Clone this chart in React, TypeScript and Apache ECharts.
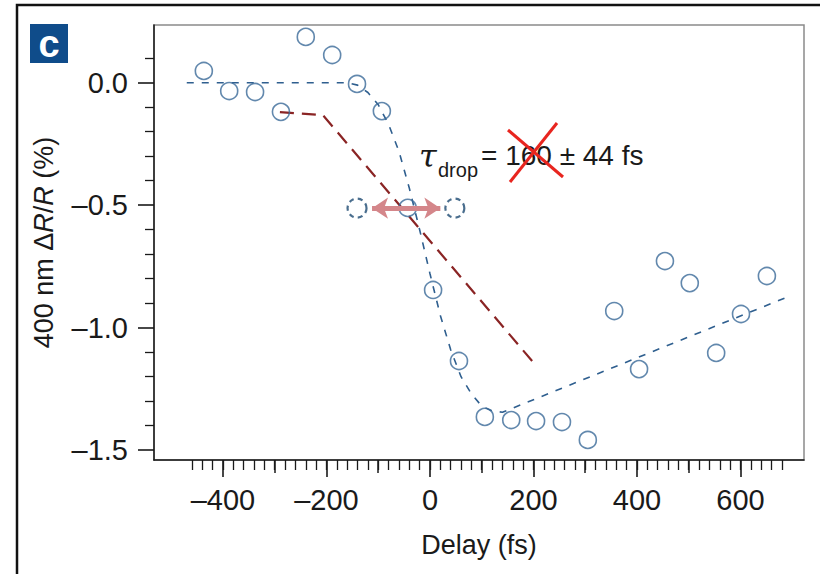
import React, { useEffect, useRef } from 'react';
import * as echarts from 'echarts';

// measured points: delay (fs) and 400 nm ΔR/R (%)
const delays = [-437, -388, -338, -288, -240, -189, -141, -93, -43, 6, 56, 106, 157, 205, 255, 305, 356, 404, 454, 502, 553, 601, 651];
const reflectivity = [0.048, -0.034, -0.038, -0.119, 0.187, 0.113, -0.005, -0.116, -0.511, -0.846, -1.136, -1.364, -1.377, -1.381, -1.385, -1.458, -0.932, -1.169, -0.728, -0.818, -1.103, -0.944, -0.789];

// blue dashed fit
const fitDelays = [-470, -160, -140, -120, -100, -80, -60, -40, -20, 0, 20, 40, 60, 80, 100, 120, 140, 696];
const fitValues = [0, 0, -0.01, -0.04, -0.09, -0.17, -0.28, -0.43, -0.6, -0.78, -0.95, -1.09, -1.2, -1.27, -1.32, -1.34, -1.345, -0.87];

// brown dashed guide
const slowDelays = [-290, -207, 199];
const slowValues = [-0.12, -0.132, -1.14];

// dashed (shifted) circles and arrow
const shiftDelays = [-141, 48];
const shiftValues = [-0.512, -0.512];
const arrowDelays = [-112, 20];
const arrowValue = -0.512;

// axis ticks
const xMajor = [-400, -200, 0, 200, 400, 600];
const xMid = [-300, -100, 100, 300, 500];
const xMinorStart = -460;
const xMinorEnd = 680;
const xMinorStep = 20;
const yMajor = [-1.5, -1.0, -0.5, 0.0];
const yMinor = [-1.4, -1.3, -1.2, -1.1, -0.9, -0.8, -0.7, -0.6, -0.4, -0.3, -0.2, -0.1, 0.1];

const X_MIN = -533.3;
const X_MAX = 722.7;
const Y_MIN = -1.54;
const Y_MAX = 0.2355;

const FONT = '"Liberation Sans", Arial, sans-serif';
const INK = '#1a1a1a';

function minus(s: string) {
  return s.replace('-', '\u2013');
}

export default function App() {
  const ref = useRef<HTMLDivElement>(null);
  useEffect(() => {
    if (!ref.current) return;
    const chart = echarts.init(ref.current, undefined, { renderer: 'svg' });
    const xMinor: number[] = [];
    for (let v = xMinorStart; v <= xMinorEnd; v += xMinorStep) xMinor.push(v);

    const pts = delays.map((d, i) => [d, reflectivity[i]]);
    const fit = fitDelays.map((d, i) => [d, fitValues[i]]);
    const slow = slowDelays.map((d, i) => [d, slowValues[i]]);
    const shift = shiftDelays.map((d, i) => [d, shiftValues[i]]);

    const baseX = { type: 'value', min: X_MIN, max: X_MAX, gridIndex: 0, position: 'bottom', splitLine: { show: false } };
    const baseY = { type: 'value', min: Y_MIN, max: Y_MAX, gridIndex: 0, position: 'left', splitLine: { show: false } };
    const hiddenLine = { show: false, onZero: false };

    chart.setOption({
      animation: false,
      backgroundColor: '#ffffff',
      grid: { left: 154, top: 25, width: 650, height: 435, show: true, borderColor: '#8a8a8a', borderWidth: 1.5, backgroundColor: 'transparent' },
      xAxis: [
        {
          ...baseX,
          axisLine: { show: true, onZero: false, lineStyle: { color: INK, width: 1.5 } },
          axisTick: { show: true, customValues: xMajor, length: 17, lineStyle: { color: INK, width: 1.6 } },
          axisLabel: {
            show: true, customValues: xMajor, margin: 25, fontSize: 29, fontFamily: FONT, color: INK,
            formatter: (v: number) => minus(String(v)),
          },
          name: 'Delay (fs)', nameLocation: 'middle', nameGap: 71,
          nameTextStyle: { fontSize: 27, fontFamily: FONT, color: INK },
        },
        {
          ...baseX,
          axisLine: hiddenLine,
          axisTick: { show: true, customValues: xMid, length: 13, lineStyle: { color: INK, width: 1.5 } },
          axisLabel: { show: false },
        },
        {
          ...baseX,
          axisLine: hiddenLine,
          axisTick: { show: true, customValues: xMinor, length: 10, lineStyle: { color: INK, width: 1.3 } },
          axisLabel: { show: false },
        },
      ],
      yAxis: [
        {
          ...baseY,
          axisLine: { show: true, onZero: false, lineStyle: { color: INK, width: 1.5 } },
          axisTick: { show: true, customValues: yMajor, length: 16, lineStyle: { color: INK, width: 1.6 } },
          axisLabel: {
            show: true, customValues: yMajor, margin: 26, fontSize: 29, fontFamily: FONT, color: INK,
            formatter: (v: number) => minus(v.toFixed(1)),
          },
          name: '400 nm \u0394{i|R}/{i|R} (%)', nameLocation: 'middle', nameGap: 97,
          nameTextStyle: {
            fontSize: 27, fontFamily: FONT, color: INK,
            rich: { i: { fontSize: 27, fontFamily: FONT, fontStyle: 'italic', color: INK } },
          },
        },
        {
          ...baseY,
          axisLine: hiddenLine,
          axisTick: { show: true, customValues: yMinor, length: 9, lineStyle: { color: INK, width: 1.3 } },
          axisLabel: { show: false },
        },
      ],
      series: [
        {
          type: 'line', data: fit, xAxisIndex: 0, yAxisIndex: 0, showSymbol: false, symbol: 'none', silent: true,
          lineStyle: { color: '#2f5f8f', width: 1.6, type: [7, 8] }, z: 2,
        },
        {
          type: 'line', data: slow, xAxisIndex: 0, yAxisIndex: 0, showSymbol: false, symbol: 'none', silent: true,
          lineStyle: { color: '#8a2424', width: 2.2, type: [14, 8] }, z: 2,
        },
        {
          type: 'scatter', data: pts, xAxisIndex: 0, yAxisIndex: 0, symbol: 'circle', symbolSize: 17, silent: true,
          itemStyle: { color: 'rgba(0,0,0,0)', borderColor: '#3b6a98', borderWidth: 1.6 }, z: 3,
        },
        {
          type: 'scatter', data: shift, xAxisIndex: 0, yAxisIndex: 0, symbol: 'circle', symbolSize: 19, silent: true,
          itemStyle: { color: 'rgba(0,0,0,0)', borderColor: '#1d4a72', borderWidth: 2.2, borderType: [5, 4] }, z: 3,
          markLine: {
            silent: true, symbol: ['arrow', 'arrow'], symbolSize: [16, 16], label: { show: false },
            lineStyle: { color: '#d4868a', width: 5, type: 'solid' },
            data: [[{ coord: [arrowDelays[0], arrowValue] }, { coord: [arrowDelays[1], arrowValue] }]],
          },
        },
      ],
      graphic: [
        { type: 'rect', shape: { x: 17, y: 5, width: 900, height: 700 }, style: { fill: 'none', stroke: '#111', lineWidth: 2.5 }, silent: true },
        { type: 'rect', shape: { x: 30, y: 24, width: 38, height: 39 }, style: { fill: '#0f4c8a' }, silent: true },
        { type: 'text', x: 49, y: 44, style: { text: 'c', fill: '#ffffff', fontSize: 38, fontWeight: 'bold', fontFamily: FONT, align: 'center', verticalAlign: 'middle' }, silent: true },
        { type: 'text', x: 419, y: 156, style: { text: '\u03c4', fill: INK, fontSize: 32, fontStyle: 'italic', fontFamily: '"DejaVu Serif", serif', verticalAlign: 'middle' }, silent: true },
        { type: 'text', x: 438, y: 170, style: { text: 'drop', fill: INK, fontSize: 20, fontFamily: FONT, verticalAlign: 'middle' }, silent: true },
        { type: 'text', x: 481, y: 155, style: { text: '= 160 \u00b1 44 fs', fill: INK, fontSize: 28, fontFamily: FONT, verticalAlign: 'middle' }, silent: true },
        { type: 'line', shape: { x1: 508, y1: 130, x2: 563, y2: 177 }, style: { stroke: '#e8251f', lineWidth: 3 }, silent: true },
        { type: 'line', shape: { x1: 557, y1: 123, x2: 510, y2: 182 }, style: { stroke: '#e8251f', lineWidth: 3 }, silent: true },
      ],
    });
    return () => chart.dispose();
  }, []);
  return <div ref={ref} style={{ position: 'fixed', left: 0, top: 0, width: 820, height: 574 }} />;
}
